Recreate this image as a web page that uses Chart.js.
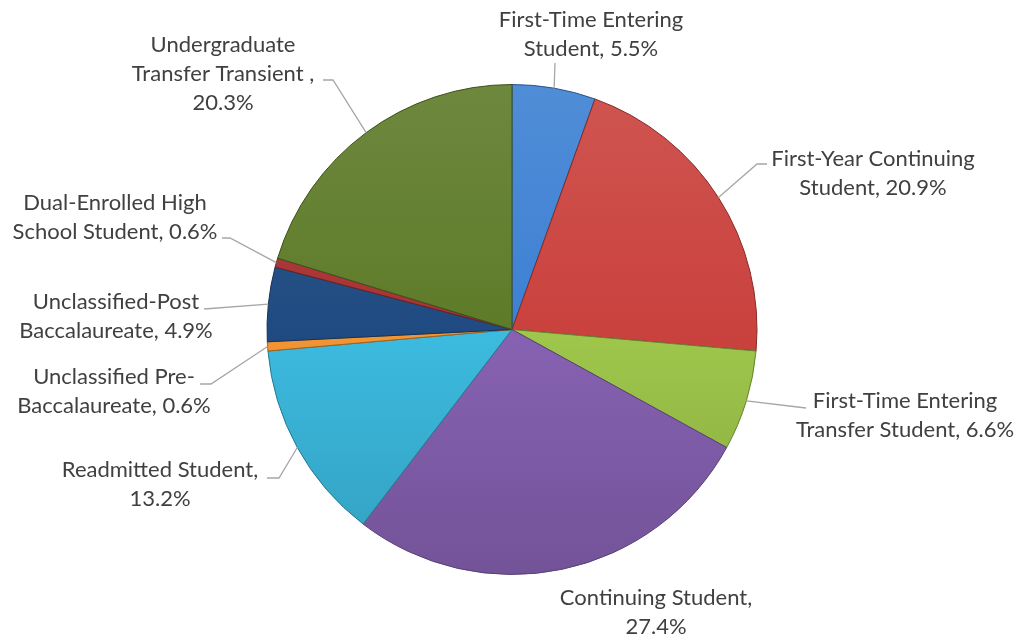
<!DOCTYPE html>
<html>
<head>
<meta charset="utf-8">
<script src="https://cdn.jsdelivr.net/npm/chart.js@4/dist/chart.umd.min.js"></script>
<style>
  html, body { margin: 0; padding: 0; background: #ffffff; }
  #wrap { width: 1021px; height: 641px; position: relative; }
</style>
</head>
<body>
<div id="wrap"><canvas id="pieChart" width="1021" height="641"></canvas></div>
<script>
const categories = [
  "First-Time Entering Student",
  "First-Year Continuing Student",
  "First-Time Entering Transfer Student",
  "Continuing Student",
  "Readmitted Student",
  "Unclassified Pre-Baccalaureate",
  "Unclassified-Post Baccalaureate",
  "Dual-Enrolled High School Student",
  "Undergraduate Transfer Transient "
];
const shares = [5.5, 20.9, 6.6, 27.4, 13.2, 0.6, 4.9, 0.6, 20.3];

const sliceColors = ["#3d80d3", "#ca423e", "#9fc74b", "#8762b3", "#3cbbe0", "#f39533", "#1f4b82", "#a83232", "#5e7b29"];

// where each label sits: text centre, first line y, wrap width, leader end and elbow
const labelLayout = [
  { x: 591, y: 20, w: 205, end: [555, 63], elbow: null },
  { x: 873, y: 159, w: 220, end: [767, 164], elbow: [757, 164] },
  { x: 905, y: 401, w: 240, end: [806, 408], elbow: null },
  { x: 656, y: 598, w: 215, end: null, elbow: null },
  { x: 160, y: 470, w: 215, end: [267, 478], elbow: [279, 478] },
  { x: 114, y: 377, w: 212, end: [200, 384], elbow: [211, 384] },
  { x: 116, y: 302, w: 212, end: [204, 309], elbow: null },
  { x: 115, y: 203, w: 222, end: [222, 238], elbow: [230, 238] },
  { x: 223, y: 45, w: 212, end: [323, 80], elbow: [333, 80] }
];

const FONT = '22px Lato, "Open Sans", sans-serif';
const LINE_H = 29;

function shade(hex, amt) {
  const n = parseInt(hex.slice(1), 16);
  let r = (n >> 16) & 255, g = (n >> 8) & 255, b = n & 255;
  const f = c => Math.max(0, Math.min(255, Math.round(amt > 0 ? c + (255 - c) * amt : c * (1 + amt))));
  return "rgb(" + f(r) + "," + f(g) + "," + f(b) + ")";
}

function wrapText(ctx, text, maxW) {
  // split after spaces and hyphens, like the spreadsheet wrap
  const tokens = text.match(/[^\s-]+-?|\s+/g) || [];
  const lines = [];
  let cur = "";
  tokens.forEach(tok => {
    const test = cur + tok;
    if (cur.trim() && ctx.measureText(test.trimEnd()).width > maxW) {
      lines.push(cur.trimEnd());
      cur = tok.trimStart();
    } else {
      cur = test;
    }
  });
  if (cur.trim()) lines.push(cur.trimEnd());
  return lines;
}

const outsideLabels = {
  id: "outsideLabels",
  afterDatasetsDraw(chart) {
    const ctx = chart.ctx;
    const arcs = chart.getDatasetMeta(0).data;
    ctx.save();
    ctx.font = FONT;
    ctx.fillStyle = "#404040";
    ctx.textAlign = "center";
    ctx.textBaseline = "middle";
    arcs.forEach((arc, i) => {
      const lay = labelLayout[i];
      const p = arc.getProps(["x", "y", "startAngle", "endAngle", "outerRadius"], true);
      const mid = (p.startAngle + p.endAngle) / 2;
      const ex = p.x + Math.cos(mid) * p.outerRadius;
      const ey = p.y + Math.sin(mid) * p.outerRadius;
      if (lay.end) {
        ctx.beginPath();
        ctx.strokeStyle = "#a6a6a6";
        ctx.lineWidth = 1.3;
        ctx.moveTo(ex, ey);
        if (lay.elbow) ctx.lineTo(lay.elbow[0], lay.elbow[1]);
        ctx.lineTo(lay.end[0], lay.end[1]);
        ctx.stroke();
      }
      const text = categories[i] + ", " + shares[i].toFixed(1) + "%";
      const lines = wrapText(ctx, text, lay.w);
      lines.forEach((ln, k) => ctx.fillText(ln, lay.x, lay.y + k * LINE_H));
    });
    ctx.restore();
  }
};

const ctx = document.getElementById("pieChart").getContext("2d");
new Chart(ctx, {
  type: "pie",
  data: {
    labels: categories,
    datasets: [{
      data: shares,
      backgroundColor: c => {
        const area = c.chart.chartArea;
        const base = sliceColors[c.dataIndex];
        if (!area) return base;
        const g = c.chart.ctx.createLinearGradient(0, area.top, 0, area.bottom);
        g.addColorStop(0, shade(base, 0.1));
        g.addColorStop(0.5, base);
        g.addColorStop(1, shade(base, -0.15));
        return g;
      },
      borderColor: sliceColors.map(c => shade(c, -0.35)),
      borderWidth: 1
    }]
  },
  options: {
    responsive: false,
    animation: false,
    layout: { padding: { top: 84, bottom: 66, left: 3, right: 0 } },
    plugins: {
      legend: { display: false },
      tooltip: { enabled: false }
    }
  },
  plugins: [outsideLabels]
});
</script>
</body>
</html>
